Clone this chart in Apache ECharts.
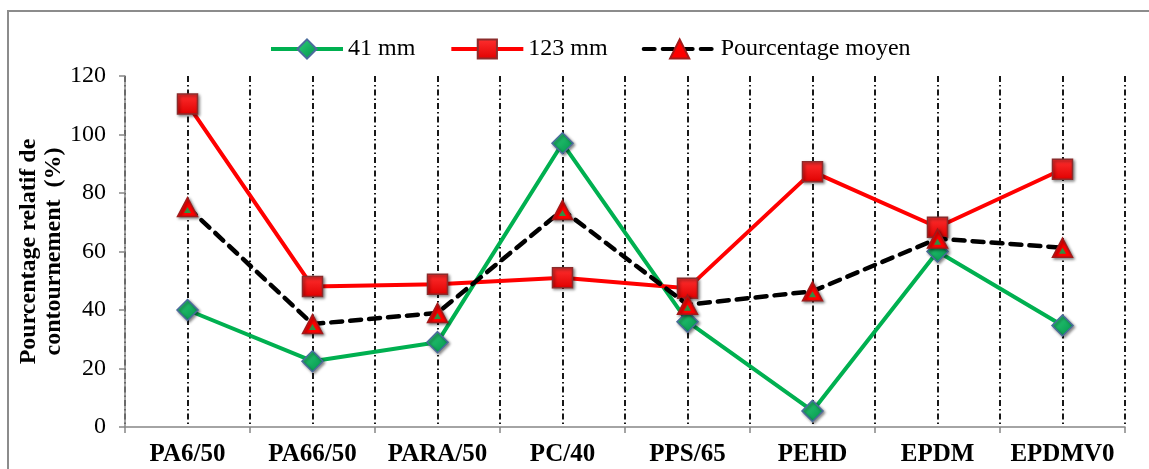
<!DOCTYPE html>
<html>
<head>
<meta charset="utf-8">
<script src="https://cdn.jsdelivr.net/npm/echarts@6/dist/echarts.min.js"></script>
<style>
html,body{margin:0;padding:0;background:#fff;}
#c{width:1149px;height:469px;}
</style>
</head>
<body>
<div id="c"></div>
<script>
var categories = ['PA6/50','PA66/50','PARA/50','PC/40','PPS/65','PEHD','EPDM','EPDMV0'];
var vals41 = [40, 22.5, 29, 97, 36, 5.5, 60, 34.7];
var vals123 = [110.4, 48, 48.8, 51, 47.4, 87.3, 68.3, 88.1];
var valsMean = [75.2, 35.2, 39, 74.2, 41.8, 46.4, 64.4, 61.3];
var yTicks = [0, 20, 40, 60, 80, 100, 120];

var FONT = 'Liberation Serif';
var chart = echarts.init(document.getElementById('c'), null, {renderer: 'canvas'});
var shadow = {shadowBlur: 3, shadowColor: 'rgba(0,0,0,0.45)', shadowOffsetX: 1.5, shadowOffsetY: 1.5};

var option = {
  backgroundColor: '#ffffff',
  animation: false,
  graphic: [{
    type: 'rect', silent: true, z: -10,
    shape: {x: 8, y: 11, width: 1160, height: 480},
    style: {fill: 'none', stroke: '#8c8c8c', lineWidth: 2}
  }],
  legend: {
    data: ['41 mm', '123 mm', 'Pourcentage moyen'],
    left: 264, top: 32,
    itemWidth: 72, itemHeight: 24, itemGap: 34,
    lineStyle: {width: 4},
    textStyle: {fontFamily: FONT, fontSize: 24, color: '#000'}
  },
  grid: {left: 125, right: 24, top: 76, bottom: 42},
  xAxis: [{
    type: 'category', data: categories, boundaryGap: true,
    axisLine: {show: true, lineStyle: {color: '#868686', width: 1.5}},
    axisTick: {show: true, length: 6, lineStyle: {color: '#868686', width: 1.5}},
    axisLabel: {fontFamily: FONT, fontSize: 25, fontWeight: 'bold', color: '#000', margin: 15, interval: 0},
    splitLine: {show: false}
  }, {
    type: 'value', min: 0, max: categories.length, interval: 0.5,
    position: 'bottom', show: true,
    axisLine: {show: false}, axisTick: {show: false}, axisLabel: {show: false},
    splitLine: {show: true, lineStyle: {color: '#000', width: 1.8, type: [6, 3, 1.5, 3]}}
  }],
  yAxis: {
    type: 'value', min: yTicks[0], max: yTicks[yTicks.length - 1], interval: 20,
    name: 'Pourcentage relatif de\ncontournement  (%)',
    nameLocation: 'middle', nameRotate: 90, nameGap: 59, nameMoveOverlap: false,
    nameTextStyle: {fontFamily: FONT, fontSize: 24, fontWeight: 'bold', color: '#000', lineHeight: 25},
    axisLine: {show: true, lineStyle: {color: '#868686', width: 1.5}},
    axisTick: {show: true, inside: false, length: 6, lineStyle: {color: '#868686', width: 1.5}},
    axisLabel: {fontFamily: FONT, fontSize: 24, color: '#000', margin: 19},
    splitLine: {show: false}
  },
  series: [{
    name: '41 mm', type: 'line', data: vals41, xAxisIndex: 0,
    symbol: 'diamond', symbolSize: [21, 21],
    lineStyle: {color: '#00B050', width: 4},
    itemStyle: Object.assign({
      color: new echarts.graphic.LinearGradient(0, 0, 1, 1, [{offset: 0, color: '#2fd07a'}, {offset: 1, color: '#00924a'}]),
      borderColor: '#4a6b9c', borderWidth: 1.5
    }, shadow),
    z: 3
  }, {
    name: '123 mm', type: 'line', data: vals123, xAxisIndex: 0,
    symbol: 'rect', symbolSize: [20, 20],
    lineStyle: {color: '#FF0000', width: 4},
    itemStyle: Object.assign({
      color: new echarts.graphic.LinearGradient(0, 0, 0, 1, [{offset: 0, color: '#ff3030'}, {offset: 1, color: '#e00000'}]),
      borderColor: '#8b2c2c', borderWidth: 1.5
    }, shadow),
    z: 4
  }, {
    name: 'Pourcentage moyen', type: 'line', data: valsMean, xAxisIndex: 0,
    symbol: 'triangle', symbolSize: [20, 19],
    lineStyle: {color: '#000', width: 4.5, type: [11, 8], cap: 'round'},
    itemStyle: Object.assign({color: '#FF0000', borderColor: '#a11a1a', borderWidth: 1.5}, shadow),
    z: 5
  }, {
    name: 'inner', type: 'scatter', data: valsMean, xAxisIndex: 0,
    symbol: 'triangle', symbolSize: [7, 6], symbolOffset: [0, 3],
    itemStyle: {color: '#00B050'}, silent: true, z: 6
  }]
};
chart.setOption(option);
</script>
</body>
</html>
